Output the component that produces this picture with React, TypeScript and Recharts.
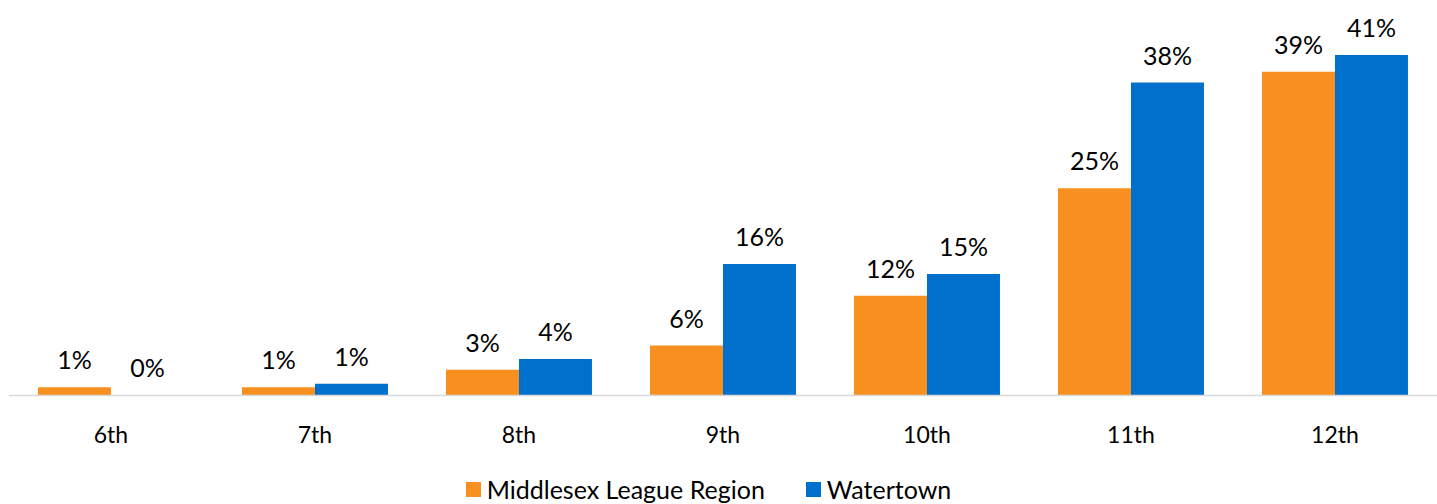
import React from 'react';
import { BarChart, Bar, XAxis, YAxis, LabelList } from 'recharts';

const grades = ['6th', '7th', '8th', '9th', '10th', '11th', '12th'];
const middlesex = [1.0, 1.0, 3.1, 6.0, 12.0, 24.9, 38.9];
const watertown = [0.01, 1.4, 4.4, 15.8, 14.6, 37.6, 40.9];
const seriesNames = ['Middlesex League Region', 'Watertown'];
const colors = ['#F8901F', '#0070CC'];

const data = grades.map((g, i) => ({ grade: g, a: middlesex[i], b: watertown[i] }));

const FONT = 'Lato, "Open Sans", sans-serif';

const fmt = (v: any) => `${Math.round(Number(v))}%`;

const labelStyle = { fill: '#000', fontSize: 25, fontFamily: FONT };

export default function App() {
  return (
    <div style={{ position: 'absolute', left: 0, top: 0, width: 1437, height: 504, background: '#fff' }}>
      <BarChart
        width={1437}
        height={504}
        data={data}
        margin={{ top: 21, right: 0, left: 9, bottom: 78.5 }}
        barCategoryGap="14.2%"
        barGap={0}
      >
        <XAxis
          dataKey="grade"
          height={30}
          axisLine={{ stroke: '#D9D9D9', strokeWidth: 1.5 }}
          tickLine={false}
          tick={{ fill: '#000', fontSize: 23, fontFamily: FONT }}
          tickMargin={25}
        />
        <YAxis hide domain={[0, 45]} />
        <Bar dataKey="a" name={seriesNames[0]} fill={colors[0]} isAnimationActive={false}>
          <LabelList dataKey="a" position="top" offset={18} formatter={fmt} style={labelStyle} />
        </Bar>
        <Bar dataKey="b" name={seriesNames[1]} fill={colors[1]} isAnimationActive={false}>
          <LabelList dataKey="b" position="top" offset={18} formatter={fmt} style={labelStyle} />
        </Bar>
      </BarChart>
      <div
        style={{
          position: 'absolute',
          left: 0,
          top: 474,
          width: 1437,
          height: 30,
          display: 'flex',
          justifyContent: 'center',
          alignItems: 'center',
          fontFamily: FONT,
          fontSize: 25,
          color: '#000',
          paddingRight: 20,
          boxSizing: 'border-box',
        }}
      >
        {seriesNames.map((n, i) => (
          <div key={n} style={{ display: 'flex', alignItems: 'center', marginRight: i === 0 ? 41 : 0 }}>
            <div style={{ width: 15, height: 15, background: colors[i], marginRight: 6 }} />
            <span>{n}</span>
          </div>
        ))}
      </div>
    </div>
  );
}
